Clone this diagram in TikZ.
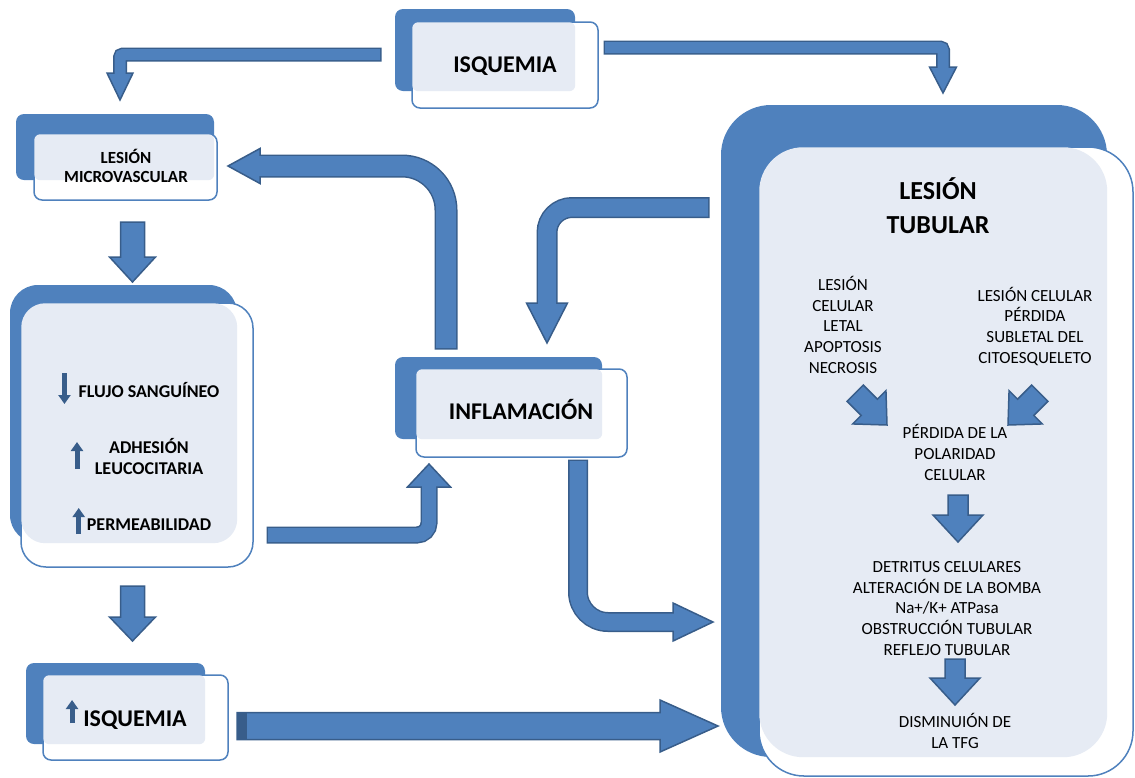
\documentclass[tikz,border=0pt]{standalone}
\usepackage{fontspec}
\setmainfont{Carlito}
\usetikzlibrary{calc, positioning, arrows.meta}

\definecolor{ofblue}{RGB}{79,129,189}
\definecolor{ofdark}{RGB}{56,93,138}
\definecolor{oftint}{RGB}{230,235,244}

\begin{document}
\begin{tikzpicture}[x=1pt, y=-1pt,
    bk/.style={rectangle, rounded corners=8pt, fill=ofblue, inner sep=0pt},
    fr/.style={rectangle, rounded corners=8pt, draw=ofblue, line width=1.5pt, fill=white, inner sep=0pt},
    tn/.style={fill=oftint, rounded corners=6pt},
    hd/.style={inner sep=0pt, font=\fontsize{24}{28}\selectfont\bfseries},
    md/.style={inner sep=0pt, align=center, font=\fontsize{17}{19}\selectfont\bfseries},
    lb/.style={inner sep=0pt, align=center, font=\fontsize{18}{21}\selectfont\bfseries},
    tx/.style={inner sep=0pt, align=center, font=\fontsize{17}{20.6}\selectfont},
    blk/.style={fill=ofblue, draw=ofdark, line width=1.5pt, line join=miter},
    rim/.style={draw=ofdark, line width=#1, shorten <=-1.5pt},
    bod/.style={draw=ofblue, line width=#1},
    tick/.style={draw=ofdark, line width=5pt, -{Triangle[width=12pt,length=9pt]}}]

    \useasboundingbox (0,0) rectangle (1135,777);

    % boxes
    \node[bk, minimum width=180pt, minimum height=82pt] (isqb) at (485,50) {};
    \node[fr, minimum width=186pt, minimum height=86pt] (isqf) at (505,65) {};
    \fill[tn] ($(isqf.north west)+(1,1)$) rectangle (isqb.south east);
    \node[hd, anchor=base] (isq) at (505,72) {ISQUEMIA};

    \node[bk, minimum width=198pt, minimum height=66pt] (mvb) at (115,147) {};
    \node[fr, minimum width=183pt, minimum height=66pt] (mvf) at (125.5,167) {};
    \fill[tn] ($(mvf.north west)+(1,1)$) rectangle (mvb.south east);
    \node[md, anchor=base] (mv) at (126,182) {LESIÓN\\MICROVASCULAR};

    \node[bk, rounded corners=28pt, minimum width=227pt, minimum height=258pt] (lbb) at (123.5,414) {};
    \node[fr, rounded corners=25pt, minimum width=232pt, minimum height=264pt] (lbf) at (137,435) {};
    \fill[tn, rounded corners=24pt] ($(lbf.north west)+(1,1)$) rectangle (lbb.south east);
    \node[lb, anchor=base] (flujo) at (149,397) {FLUJO SANGUÍNEO};
    \node[lb, anchor=base] (adh) at (149,474) {ADHESIÓN\\LEUCOCITARIA};
    \node[lb, anchor=base] (perm) at (149,530) {PERMEABILIDAD};

    \node[bk, minimum width=179pt, minimum height=81pt] (ibb) at (115.5,703.5) {};
    \node[fr, minimum width=185pt, minimum height=85pt] (ibf) at (135.5,717.5) {};
    \fill[tn] ($(ibf.north west)+(1,1)$) rectangle (ibb.south east);
    \node[hd, anchor=base] (isq2) at (135,726) {ISQUEMIA};

    \node[bk, minimum width=207pt, minimum height=82pt] (infb) at (498.5,398) {};
    \node[fr, minimum width=211pt, minimum height=88pt] (inff) at (521.5,413) {};
    \fill[tn] ($(inff.north west)+(1,1)$) rectangle (infb.south east);
    \node[hd, anchor=base] (infl) at (521,419) {INFLAMACIÓN};

    \node[bk, rounded corners=50pt, minimum width=386pt, minimum height=652pt] (tbb) at (914,431) {};
    \node[fr, rounded corners=45pt, minimum width=374pt, minimum height=629pt] (tbf) at (946,461.5) {};
    \fill[tn, rounded corners=44pt] ($(tbf.north west)+(1,1)$) rectangle (tbb.south east);
    \node[hd, align=center, font=\fontsize{26}{34}\selectfont\bfseries, anchor=base] (lt) at (938,233) {LESIÓN\\TUBULAR};
    \node[tx, anchor=base] (letal) at (843,373) {LESIÓN\\CELULAR\\LETAL\\APOPTOSIS\\NECROSIS};
    \node[tx, anchor=base] (subl) at (1035,363) {LESIÓN CELULAR\\PÉRDIDA\\SUBLETAL DEL\\CITOESQUELETO};
    \node[tx, anchor=base] (pol) at (955,480) {PÉRDIDA DE LA\\POLARIDAD\\CELULAR};
    \node[tx, anchor=base] (det) at (947,655) {DETRITUS CELULARES\\ALTERACIÓN DE LA BOMBA\\Na+/K+ ATPasa\\OBSTRUCCIÓN TUBULAR\\REFLEJO TUBULAR};
    \node[tx, anchor=base] (tfg) at (955,748) {DISMINUIÓN DE\\LA TFG};

    % small arrows in the text
    \draw[tick] ($(flujo.base west)+(-14,-24)$) -- ($(flujo.base west)+(-14,7)$);
    \draw[tick] (77,469) -- (77,442);
    \draw[tick] ($(perm.base west)+(-8,4)$) -- ($(perm.base west)+(-8,-22)$);
    \draw[tick] ($(isq2.base west)+(-11,-3)$) -- ($(isq2.base west)+(-11,-26)$);

    % arrow ends
    \coordinate (aS) at (380,54.5);  \coordinate (aT) at (120,100);
    \coordinate (bS) at (605,47.5);  \coordinate (bT) at (943,93);
    \coordinate (cS) at (446,348);   \coordinate (cT) at (228,166);
    \coordinate (dS) at (708,207.5); \coordinate (dT) at (547,343);
    \coordinate (eS) at (268,535);   \coordinate (eT) at (429,464);
    \coordinate (fS) at (578,461);   \coordinate (fT) at (713,622);
    \coordinate (gT) at (718,726);
    \coordinate (v1) at (132.5,282); \coordinate (v2) at (132.5,641);
    \coordinate (r1) at (958,542);   \coordinate (r2) at (955,705);
    \coordinate (q1) at (887,425);   \coordinate (q2) at (1008,425);

    % bent arrows
    \draw[rim=14pt, rounded corners=3pt] (aS) -| ($(aT)+(0,-27)$);
    \draw[blk] (aT) -- ++(-13,-27) -- ++(26,0) -- cycle;
    \draw[bod=11pt, rounded corners=3pt] (aS) -| ($(aT)+(0,-22)$);

    \draw[rim=14pt, rounded corners=3pt] (bS) -| ($(bT)+(0,-26)$);
    \draw[blk] (bT) -- ++(-13.5,-26) -- ++(27,0) -- cycle;
    \draw[bod=11pt, rounded corners=3pt] (bS) -| ($(bT)+(0,-21)$);

    \draw[rim=23pt, rounded corners=44pt] (cS) |- ($(cT)+(32,0)$);
    \draw[blk] (cT) -- ++(32,-17.5) -- ++(0,35) -- cycle;
    \draw[bod=20pt, rounded corners=44pt] (cS) |- ($(cT)+(26,0)$);

    \draw[rim=21pt, rounded corners=25pt] (dS) -| ($(dT)+(0,-40)$);
    \draw[blk] (dT) -- ++(-20.5,-40) -- ++(41,0) -- cycle;
    \draw[bod=18pt, rounded corners=25pt] (dS) -| ($(dT)+(0,-32)$);

    \draw[rim=17pt, rounded corners=12pt] (eS) -| ($(eT)+(0,23)$);
    \draw[blk] (eT) -- ++(-21.5,23) -- ++(43,0) -- cycle;
    \draw[bod=14pt, rounded corners=12pt] (eS) -| ($(eT)+(0,17)$);

    \draw[rim=20pt, rounded corners=30pt] (fS) |- ($(fT)+(-40,0)$);
    \draw[blk] (fT) -- ++(-40,-19) -- ++(0,38) -- cycle;
    \draw[bod=17pt, rounded corners=30pt] (fS) |- ($(fT)+(-32,0)$);

    % straight arrows
    \draw[blk] (gT) -- ++(-58,-26) -- ++(0,12.5) -- ++(-423,0) -- ++(0,27) -- ++(423,0) -- ++(0,12.5) -- cycle;
    \fill[ofdark] ($(gT)+(-481,-13.5)$) rectangle ++(10,27);
    \draw[blk] (v1) -- ++(-23,-25) -- ++(11,0) -- ++(0,-35) -- ++(24,0) -- ++(0,35) -- ++(11,0) -- cycle;
    \draw[blk] (v2) -- ++(-23,-24) -- ++(11,0) -- ++(0,-31) -- ++(24,0) -- ++(0,31) -- ++(11,0) -- cycle;
    \draw[blk] (r1) -- ++(-25,-27) -- ++(15,0) -- ++(0,-20) -- ++(20,0) -- ++(0,20) -- ++(15,0) -- cycle;
    \draw[blk] (r2) -- ++(-25,-27) -- ++(15,0) -- ++(0,-19) -- ++(20,0) -- ++(0,19) -- ++(15,0) -- cycle;
    \draw[blk, rotate around={45:(q1)}] (q1) -- ++(-23.5,-25) -- ++(12,0) -- ++(0,-20) -- ++(23,0) -- ++(0,20) -- ++(12,0) -- cycle;
    \draw[blk, rotate around={-45:(q2)}] (q2) -- ++(-23.5,-25) -- ++(12,0) -- ++(0,-20) -- ++(23,0) -- ++(0,20) -- ++(12,0) -- cycle;
\end{tikzpicture}
\end{document}
